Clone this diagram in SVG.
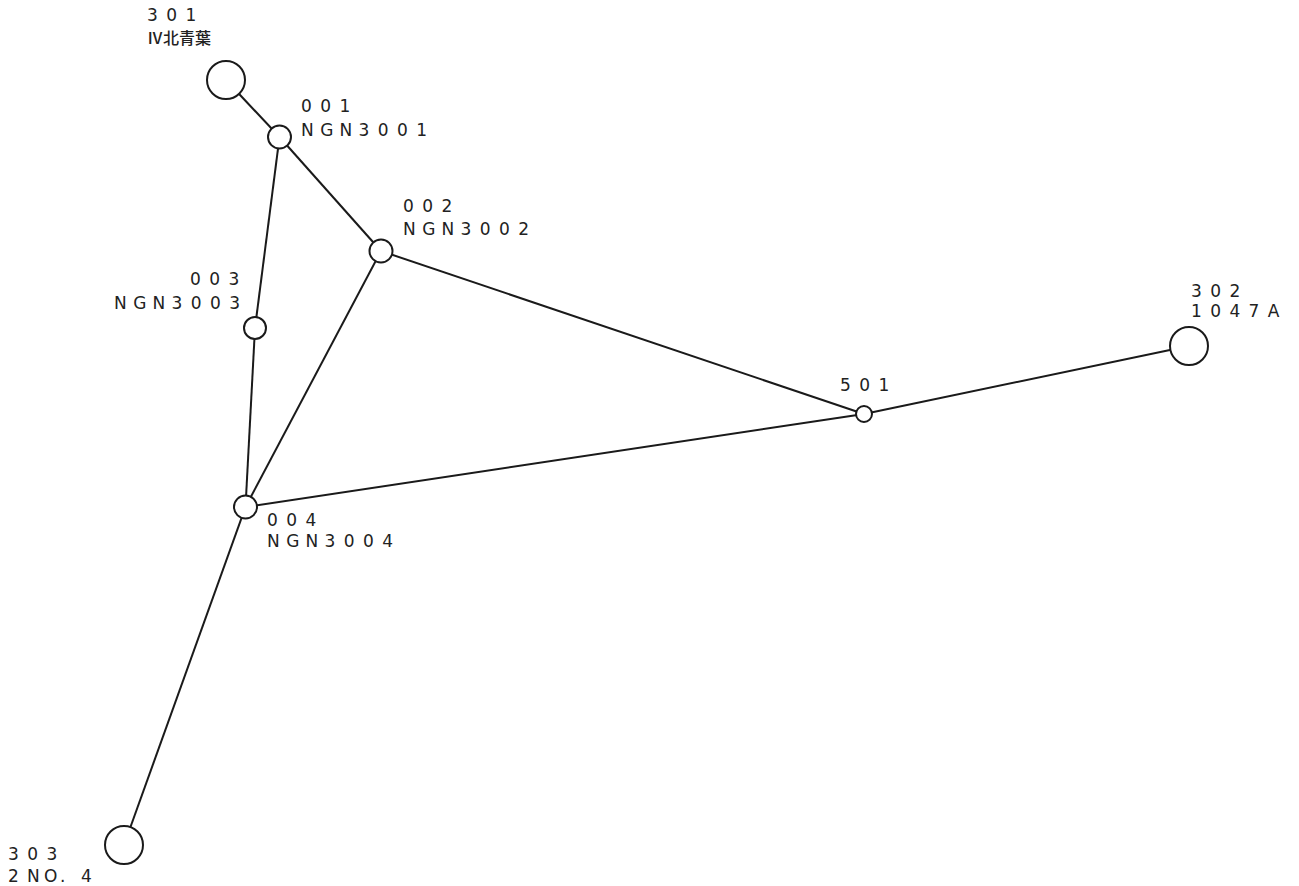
<svg xmlns="http://www.w3.org/2000/svg" width="1299" height="886" viewBox="0 0 1299 886">
<style>
.e{stroke:#1a1a1a;stroke-width:2;fill:none}
.n{stroke:#1a1a1a;stroke-width:2;fill:#fff}
.t{font-family:"DejaVu Sans","Noto Sans CJK JP",sans-serif;font-size:17px;fill:#222}
.j{font-family:"Noto Sans CJK JP",sans-serif;font-size:16px;font-weight:500;fill:#222}
</style>
<rect width="1299" height="886" fill="#fff"/>
<g id="connectors">
<line class="e" x1="226" y1="80" x2="279.5" y2="137"/>
<line class="e" x1="279.5" y1="137" x2="381" y2="251"/>
<line class="e" x1="279.5" y1="137" x2="255" y2="328"/>
<line class="e" x1="255" y1="328" x2="245.5" y2="507"/>
<line class="e" x1="381" y1="251" x2="245.5" y2="507"/>
<line class="e" x1="381" y1="251" x2="864" y2="414"/>
<line class="e" x1="245.5" y1="507" x2="864" y2="414"/>
<line class="e" x1="864" y1="414" x2="1189" y2="346"/>
<line class="e" x1="245.5" y1="507" x2="124" y2="845"/>
</g>
<g id="n301">
<circle class="n" cx="226" cy="80" r="19"/>
<text class="t" x="147 166.2 185.4" y="21">301</text>
<text class="j" x="147" y="44">Ⅳ北青葉</text>
</g>
<g id="n001">
<circle class="n" cx="279.5" cy="137" r="11.5"/>
<text class="t" x="301 320.2 339.4" y="112">001</text>
<text class="t" x="301 320.2 339.4 358.6 377.8 397 416.2" y="136">NGN3001</text>
</g>
<g id="n002">
<circle class="n" cx="381" cy="251" r="11.5"/>
<text class="t" x="403 422.2 441.4" y="212">002</text>
<text class="t" x="403 422.2 441.4 460.6 479.8 499 518.2" y="235">NGN3002</text>
</g>
<g id="n003">
<circle class="n" cx="255" cy="328" r="11"/>
<text class="t" x="190 209.2 228.4" y="285">003</text>
<text class="t" x="114 133.2 152.4 171.6 190.8 210 229.2" y="309">NGN3003</text>
</g>
<g id="n004">
<circle class="n" cx="245.5" cy="507" r="11.5"/>
<text class="t" x="267 286.2 305.4" y="526">004</text>
<text class="t" x="267 286.2 305.4 324.6 343.8 363 382.2" y="547">NGN3004</text>
</g>
<g id="n501">
<circle class="n" cx="864" cy="414" r="8"/>
<text class="t" x="840 859.2 878.4" y="391">501</text>
</g>
<g id="n302">
<circle class="n" cx="1189" cy="346" r="19"/>
<text class="t" x="1191 1210.2 1229.4" y="297">302</text>
<text class="t" x="1191 1210.2 1229.4 1248.6 1267.8" y="317">1047A</text>
</g>
<g id="n303">
<circle class="n" cx="124" cy="845" r="19"/>
<text class="t" x="8 27.2 46.4" y="860">303</text>
<text class="t" x="8 27 44 60 69 81" y="882">2NO. 4</text>
</g>
</svg>
